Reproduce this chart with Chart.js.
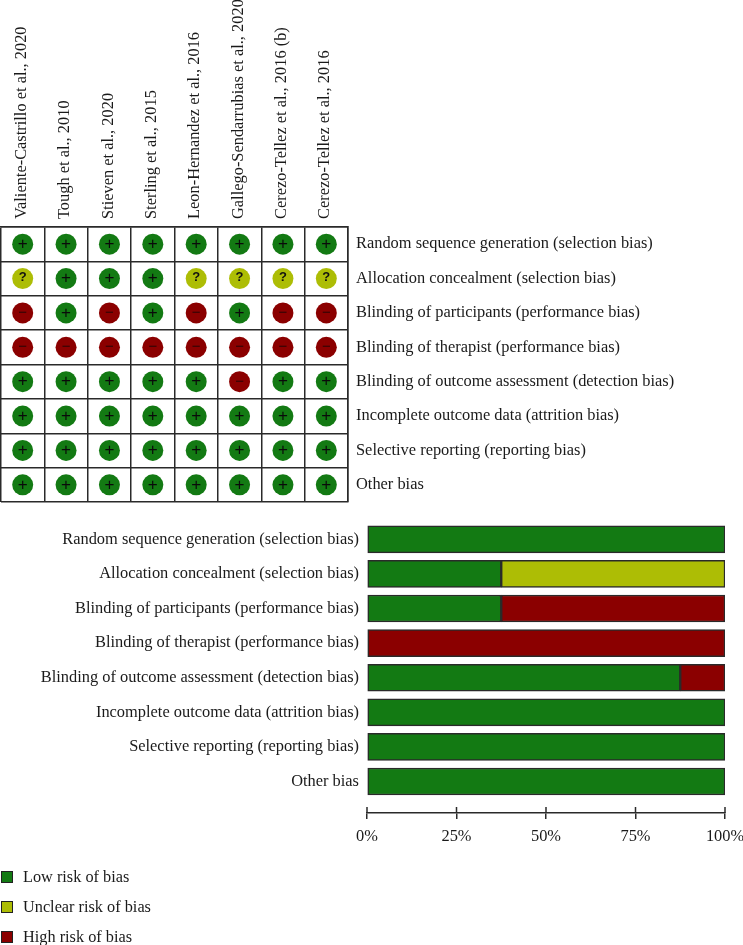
<!DOCTYPE html>
<html>
<head>
<meta charset="utf-8">
<script src="https://cdn.jsdelivr.net/npm/chart.js@4/dist/chart.umd.min.js"></script>
<style>
  html, body { margin: 0; padding: 0; background: #fff; }
  #page { position: relative; width: 743px; height: 945px; overflow: hidden; }
  canvas { position: absolute; left: 0; }
  #legend { position: absolute; left: 1px; top: 862px; font: 16.3px "Liberation Serif", serif; color: #1a1a1a; }
  #legend div { position: relative; height: 30px; line-height: 29px; padding-left: 22px; white-space: nowrap; }
  #legend i { position: absolute; left: 0; top: 9px; width: 10px; height: 10px; border: 1.5px solid #222; }
</style>
</head>
<body>
<div id="page">
  <canvas id="summary" width="743" height="520" style="top:0"></canvas>
  <canvas id="graph" width="743" height="430" style="top:515px"></canvas>
  <div id="legend"></div>
</div>
<script>
const studies = ['Valiente-Castrillo et al., 2020', 'Tough et al., 2010', 'Stieven et al., 2020', 'Sterling et al., 2015',
  'Leon-Hernandez et al., 2016', 'Gallego-Sendarrubias et al., 2020', 'Cerezo-Tellez et al., 2016 (b)', 'Cerezo-Tellez et al., 2016'];
const domains = ['Random sequence generation (selection bias)', 'Allocation concealment (selection bias)',
  'Blinding of participants (performance bias)', 'Blinding of therapist (performance bias)',
  'Blinding of outcome assessment (detection bias)', 'Incomplete outcome data (attrition bias)',
  'Selective reporting (reporting bias)', 'Other bias'];

// one row per domain, one sign per study
const judgements = [
  ['+', '+', '+', '+', '+', '+', '+', '+'],
  ['?', '+', '+', '+', '?', '?', '?', '?'],
  ['-', '+', '-', '+', '-', '+', '-', '-'],
  ['-', '-', '-', '-', '-', '-', '-', '-'],
  ['+', '+', '+', '+', '+', '-', '+', '+'],
  ['+', '+', '+', '+', '+', '+', '+', '+'],
  ['+', '+', '+', '+', '+', '+', '+', '+'],
  ['+', '+', '+', '+', '+', '+', '+', '+']
];

const lowRisk = [100, 37.5, 37.5, 0, 87.5, 100, 100, 100];
const unclearRisk = [0, 62.5, 0, 0, 0, 0, 0, 0];
const highRisk = [0, 0, 62.5, 100, 12.5, 0, 0, 0];
const percentTicks = [0, 25, 50, 75, 100];
const legendNames = ['Low risk of bias', 'Unclear risk of bias', 'High risk of bias'];

const GREEN = '#137a13', YELLOW = '#adbd05', RED = '#8b0000';
const signColor = { '+': GREEN, '?': YELLOW, '-': RED };
const serif = 'Liberation Serif';
const fontSize = 16.4;
const textColor = '#1a1a1a', lineColor = '#2a2a2a';

// stop the scales from reserving room for half a tick label
function noPadding(s) {
  s.paddingLeft = s.paddingRight = s.paddingTop = s.paddingBottom = 0;
}

// writes + ? - on top of each circle
const signs = {
  id: 'signs',
  afterDatasetsDraw(chart) {
    const ctx = chart.ctx;
    const meta = chart.getDatasetMeta(0);
    const data = chart.data.datasets[0].data;
    ctx.save();
    ctx.textAlign = 'center';
    ctx.textBaseline = 'middle';
    meta.data.forEach((pt, i) => {
      const s = data[i].sign;
      if (s === '?') {
        ctx.fillStyle = '#111';
        ctx.font = 'bold 13px "Liberation Sans"';
        ctx.fillText('?', pt.x, pt.y - 1);
      } else if (s === '+') {
        ctx.fillStyle = '#0a0a0a';
        ctx.font = '17px "Liberation Sans"';
        ctx.fillText('+', pt.x, pt.y);
      } else {
        ctx.fillStyle = '#2a0505';
        ctx.font = '15px "Liberation Sans"';
        ctx.fillText('\u2212', pt.x, pt.y);
      }
    });
    ctx.restore();
  }
};

const cells = [];
judgements.forEach((row, r) => row.forEach((sign, c) => {
  cells.push({ x: studies[c], y: domains[r], sign: sign });
}));

new Chart(document.getElementById('summary'), {
  type: 'scatter',
  plugins: [signs],
  data: {
    datasets: [{
      data: cells,
      pointRadius: 10.5,
      pointHoverRadius: 10.5,
      borderWidth: 0,
      backgroundColor: cells.map(c => signColor[c.sign])
    }]
  },
  options: {
    responsive: false,
    animation: false,
    layout: { autoPadding: false, padding: { left: 1, top: 0, right: 0, bottom: 18 } },
    plugins: { legend: { display: false }, tooltip: { enabled: false } },
    scales: {
      x: {
        type: 'category',
        position: 'top',
        labels: studies,
        offset: true,
        afterFit(s) { s.height = 227; noPadding(s); },
        grid: { offset: true, color: lineColor, lineWidth: 1.5, drawTicks: false },
        border: { color: lineColor, width: 1.5 },
        ticks: { autoSkip: false, minRotation: 90, maxRotation: 90, padding: 8, labelOffset: 18.5, color: textColor, font: { family: serif, size: fontSize } }
      },
      y: {
        type: 'category',
        position: 'right',
        labels: domains,
        offset: true,
        afterFit(s) { s.width = 395; noPadding(s); },
        grid: { offset: true, color: lineColor, lineWidth: 1.5, drawTicks: false },
        border: { color: lineColor, width: 1.5 },
        ticks: { autoSkip: false, padding: 8, color: textColor, font: { family: serif, size: fontSize } }
      }
    }
  }
});

// ticks in the source cross the axis line, so add the part above it
const tickStubs = {
  id: 'tickStubs',
  afterDraw(chart) {
    const x = chart.scales.x, ctx = chart.ctx;
    ctx.save();
    ctx.strokeStyle = lineColor;
    ctx.lineWidth = 1.5;
    x.ticks.forEach((t, i) => {
      const px = x.getPixelForTick(i);
      ctx.beginPath();
      ctx.moveTo(px, x.top - 6);
      ctx.lineTo(px, x.top);
      ctx.stroke();
    });
    ctx.restore();
  }
};

function barSet(name, values, color) {
  return {
    label: name,
    data: values.map((v, i) => ({ x: v, y: i })),
    backgroundColor: color,
    borderColor: lineColor,
    borderWidth: 1.5,
    borderSkipped: false,
    barThickness: 27
  };
}

new Chart(document.getElementById('graph'), {
  type: 'bar',
  plugins: [tickStubs],
  data: {
    datasets: [
      barSet(legendNames[0], lowRisk, GREEN),
      barSet(legendNames[1], unclearRisk, YELLOW),
      barSet(legendNames[2], highRisk, RED)
    ]
  },
  options: {
    indexAxis: 'y',
    responsive: false,
    animation: false,
    layout: { padding: { top: 7, right: 18, left: 0, bottom: 0 } },
    plugins: { legend: { display: false }, tooltip: { enabled: false } },
    scales: {
      x: {
        type: 'linear',
        stacked: true,
        min: 0,
        max: 100,
        afterBuildTicks(s) { s.ticks = percentTicks.map(v => ({ value: v })); },
        afterFit(s) { s.height = 132; noPadding(s); },
        grid: { drawOnChartArea: false, color: lineColor, lineWidth: 1.5, tickLength: 6 },
        border: { color: lineColor, width: 1.5 },
        ticks: { padding: 8, color: textColor, font: { family: serif, size: fontSize }, callback: v => v + '%' }
      },
      y: {
        type: 'linear',
        stacked: true,
        reverse: true,
        offset: false,
        min: -0.5,
        max: 7.91,
        afterBuildTicks(s) { s.ticks = domains.map((d, i) => ({ value: i })); },
        afterFit(s) { s.width = 367; noPadding(s); },
        grid: { display: false, drawTicks: false },
        border: { display: false },
        ticks: { autoSkip: false, padding: 8, color: textColor, font: { family: serif, size: fontSize }, callback: v => domains[v] }
      }
    }
  }
});

const legendBox = document.getElementById('legend');
[GREEN, YELLOW, RED].forEach((color, i) => {
  const row = document.createElement('div');
  const swatch = document.createElement('i');
  swatch.style.background = color;
  row.appendChild(swatch);
  row.appendChild(document.createTextNode(legendNames[i]));
  legendBox.appendChild(row);
});
</script>
</body>
</html>
